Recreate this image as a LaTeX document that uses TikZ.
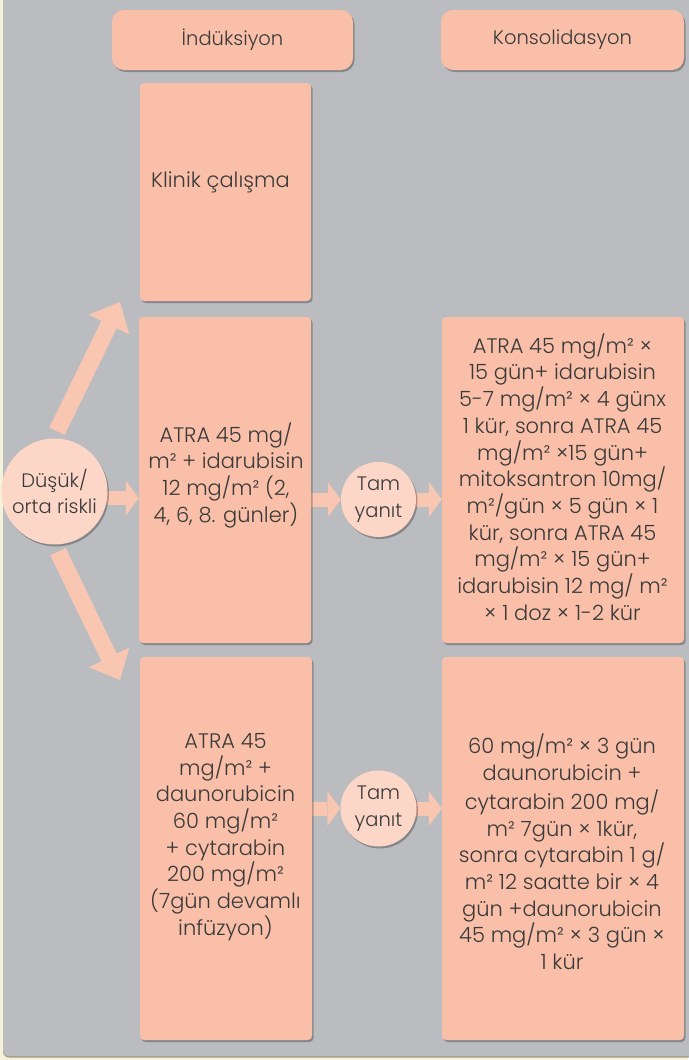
\documentclass[tikz,border=0pt]{standalone}
\usepackage{fontspec}
\setmainfont{Poppins}[UprightFont={* Light}]
\usetikzlibrary{arrows.meta,shadows,calc}
\definecolor{pagec}{HTML}{F5F2DA}
\definecolor{grayc}{HTML}{BBBCC0}
\definecolor{boxc}{HTML}{F9BFA8}
\definecolor{circc}{HTML}{FCD6C6}
\definecolor{arrc}{HTML}{F9C6B2}
\definecolor{txtc}{HTML}{3A3A3A}
\pgfdeclarelayer{back}
\pgfdeclarelayer{mid}
\pgfsetlayers{back,mid,main}
\begin{document}
\begin{tikzpicture}[x=1pt,y=-1pt,
  shd/.style={drop shadow={shadow xshift=1.5pt,shadow yshift=-2pt,opacity=0.28,fill=black}},
  box/.style={shd,fill=boxc,rounded corners=4pt,draw=none,inner sep=0pt},
  headbox/.style={box,rounded corners=12pt,text=txtc,font=\fontsize{19.5}{23}\selectfont},
  circ/.style={shd,circle,fill=circc,draw=none,inner sep=0pt,text=txtc,align=center,font=\fontsize{19.5}{26.7}\selectfont},
  txt/.style={text=txtc,align=center,inner sep=0pt,font=\fontsize{21}{26.7}\selectfont},
  blk/.style={draw=arrc,line width=14pt,-{Triangle[width=35pt,length=13pt,line width=0pt]}},
  dia/.style={draw=arrc,line width=17pt,-{Triangle[width=45pt,length=25pt,line width=0pt]}}
]
\useasboundingbox (0,0) rectangle (688,1060);
\begin{pgfonlayer}{back}
  \fill[pagec] (0,0) rectangle (688,1060);
  \fill[grayc,rounded corners=6pt,drop shadow={shadow xshift=0pt,shadow yshift=-1.5pt,opacity=0.35,fill=black}] (3,-10) rectangle (700,1056);
\end{pgfonlayer}

% headers
\node[headbox,minimum width=241pt,minimum height=60pt] (h1) at (232.5,40) {İndüksiyon};
\node[headbox,minimum width=243pt,minimum height=60pt] (h2) at (562.5,40) {Konsolidasyon};

% induction boxes
\node[box,minimum width=171pt,minimum height=218pt] (k) at (225.5,192) {};
\node[box,minimum width=172pt,minimum height=326pt] (a1) at (225,480) {};
\node[box,minimum width=172pt,minimum height=383pt] (a2) at (226,848.5) {};
% consolidation boxes
\node[box,minimum width=242pt,minimum height=326pt] (c1) at (563,480) {};
\node[box,minimum width=242pt,minimum height=383pt] (c2) at (563,848.5) {};

% circles
\node[circ,minimum size=106pt] (d) at (54.5,491.5) {Düşük/\\orta riskli};
\node[circ,minimum size=75pt] (t1) at (378.5,499.5) {Tam\\yanıt};
\node[circ,minimum size=76pt] (t2) at (378.5,808.5) {Tam\\yanıt};

% texts
\node[txt,anchor=west] (kt) at (151,182) {Klinik çalışma};
\node[txt] (a1t) at (226,475) {ATRA 45 mg/\\m² + idarubisin\\12 mg/m² (2,\\4, 6, 8. günler)};
\node[txt] (a2t) at (225.5,837) {ATRA 45\\mg/m² +\\daunorubicin\\60 mg/m²\\+ cytarabin\\200 mg/m²\\(7gün devamlı\\infüzyon)};
\node[txt] (c1t) at (562.5,477) {ATRA 45 mg/m² ×\\15 gün+ idarubisin\\5-7 mg/m² × 4 günx\\1 kür, sonra ATRA 45\\mg/m² ×15 gün+\\mitoksantron 10mg/\\m²/gün × 5 gün × 1\\kür, sonra ATRA 45\\mg/m² × 15 gün+\\idarubisin 12 mg/ m²\\× 1 doz × 1-2 kür};
\node[txt] (c2t) at (562,852) {60 mg/m² × 3 gün\\daunorubicin +\\[2pt]cytarabin 200 mg/\\m² 7gün × 1kür,\\sonra cytarabin 1 g/\\m² 12 saatte bir × 4\\gün +daunorubicin\\45 mg/m² × 3 gün ×\\1 kür};

\coordinate (up) at (120,302);
\coordinate (dn) at (120,680);

\begin{pgfonlayer}{mid}
  \draw[dia] ([xshift=2.5pt,yshift=7pt]d.north) -- (up);
  \draw[dia] ([xshift=3.5pt,yshift=-7pt]d.south) -- (dn);
  \draw[blk] ([yshift=-6.5pt]d.center) -- ([yshift=-6.5pt]d.center -| a1.west);
  \draw[blk] (a1.east |- t1.west) -- (t1.west);
  \draw[blk] (t1.center) -- (t1.center -| c1.west);
  \draw[blk] (a2.east |- t2.west) -- (t2.west);
  \draw[blk] (t2.center) -- (t2.center -| c2.west);
\end{pgfonlayer}
\end{tikzpicture}
\end{document}
